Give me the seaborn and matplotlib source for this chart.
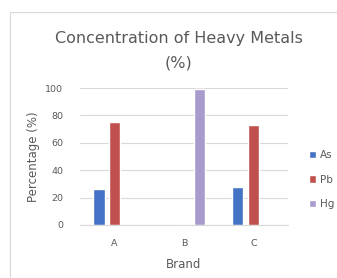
import matplotlib.pyplot as plt
import pandas as pd
import seaborn as sns
from matplotlib.patches import Rectangle

# Dados do gráfico
brands = ['A', 'B', 'C']
metals = ['As', 'Pb', 'Hg']
as_values = [26, 0, 28]
pb_values = [75, 1, 73]
hg_values = [0, 99, 0]
colors = ['#4472C4', '#C0504D', '#A99BCE']

# Montando o dataframe em formato longo
rows = []
for metal, vals in zip(metals, [as_values, pb_values, hg_values]):
    for brand, v in zip(brands, vals):
        rows.append({'Brand': brand, 'Metal': metal, 'Value': v})
df = pd.DataFrame(rows)

sns.set_style('white')
plt.rcParams['font.family'] = ['DejaVu Sans']

fig = plt.figure(figsize=(3.37, 2.78), dpi=100)
fig.patch.set_facecolor('white')

# Moldura da área do gráfico
fig.patches.append(Rectangle((10 / 337, -0.1), 1.0, 1.1 - 12 / 278, transform=fig.transFigure,
                             fill=False, edgecolor='#D9D9D9', lw=0.8))

ax = fig.add_axes([80 / 337, 1 - 225 / 278, 208 / 337, 137 / 278])
sns.barplot(data=df, x='Brand', y='Value', hue='Metal', hue_order=metals,
            palette=colors, saturation=1, width=0.68, gap=0.28, ax=ax, legend=True)

ax.set_xlim(-0.5, 2.5)
ax.set_ylim(0, 100)
ax.set_yticks(range(0, 101, 20))
ax.yaxis.grid(True, color='#D9D9D9', lw=0.8)
ax.set_axisbelow(True)
for s in ['top', 'right', 'left']:
    ax.spines[s].set_visible(False)
ax.spines['bottom'].set_color('#D9D9D9')
ax.tick_params(axis='both', length=0, labelsize=6.8, labelcolor='#595959')
ax.tick_params(axis='y', pad=12)
ax.tick_params(axis='x', pad=10)

ax.set_xlabel('Brand', fontsize=8.5, color='#595959', labelpad=7)
ax.set_ylabel('Percentage (%)', fontsize=8.5, color='#595959', labelpad=4)

fig.text(0.53, 1 - 38 / 278, 'Concentration of Heavy Metals', ha='center', va='center',
         fontsize=11.5, color='#595959')
fig.text(0.53, 1 - 63 / 278, '(%)', ha='center', va='center',
         fontsize=11.5, color='#595959')

leg = ax.legend(loc='center left', bbox_to_anchor=(1.1, 0.33), frameon=False,
                fontsize=7.5, labelcolor='#595959', handlelength=0.7, handleheight=0.7,
                handletextpad=0.4, labelspacing=1.4, borderaxespad=0, borderpad=0)

fig.savefig('out.png', dpi=100)
